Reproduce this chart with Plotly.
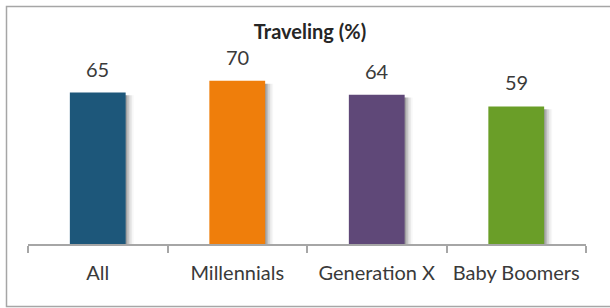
import plotly.graph_objects as go

categories = ["All", "Millennials", "Generation X", "Baby Boomers"]
values = [65, 70, 64, 59]
colors = ["#1D577A", "#EF7E0B", "#5F4878", "#6A9E28"]
title_text = "Traveling (%)"

W, H = 610, 308
ml, mr, mt, mb = 28, 24, 58, 64
FONT = "Lato, Carlito, Calibri, sans-serif"
TXT = "#3A3A3A"

fig = go.Figure()

# soft shadow layers to the right of each bar
shadow_steps = [(0.010, 0.16), (0.022, 0.12), (0.034, 0.08), (0.046, 0.05), (0.058, 0.03)]
for dx, op in shadow_steps:
    fig.add_trace(go.Bar(
        x=categories, y=[v - 1.2 for v in values],
        width=0.4, offset=-0.2 + dx,
        marker=dict(color=f"rgba(0,0,0,{op})", line=dict(width=0)),
        hoverinfo="skip", showlegend=False,
    ))

fig.add_trace(go.Bar(
    x=categories, y=values,
    width=0.4, offset=-0.2,
    marker=dict(color=colors, line=dict(width=0)),
    showlegend=False,
))

for c, v in zip(categories, values):
    fig.add_annotation(x=c, y=v, text=str(v), showarrow=False,
                       yshift=24, yanchor="middle",
                       font=dict(family=FONT, size=20, color=TXT))

pw = W - ml - mr
ph = H - mt - mb
fig.add_shape(type="rect", xref="paper", yref="paper",
              x0=-(ml - 6.5) / pw, x1=1 + (mr + 60) / pw,
              y0=-(mb - 1.5) / ph, y1=1 + (mt - 6.5) / ph,
              line=dict(color="#A6A6A6", width=1.5), fillcolor="rgba(0,0,0,0)",
              layer="above")

fig.update_layout(
    width=W, height=H,
    margin=dict(l=ml, r=mr, t=mt, b=mb),
    paper_bgcolor="white", plot_bgcolor="white",
    barmode="overlay",
    title=dict(text="<b>" + title_text + "</b>", x=(310 - ml) / pw, xref="paper",
               xanchor="center", y=1 - 32 / H, yanchor="middle",
               font=dict(family=FONT, size=20, color="#262626")),
    font=dict(family=FONT, size=20, color=TXT),
    xaxis=dict(
        type="category", range=[-0.5, 3.5],
        showline=True, linecolor="#A6A6A6", linewidth=2,
        ticks="outside", tickson="boundaries", ticklen=7, tickwidth=2, tickcolor="#A6A6A6",
        ticklabelstandoff=10,
        tickfont=dict(family=FONT, size=20, color=TXT),
        showgrid=False, zeroline=False,
    ),
    yaxis=dict(range=[0, 79.8], visible=False, showgrid=False, zeroline=False),
)

fig.write_html("out.html", config={"displayModeBar": False},
               post_script="document.body.style.margin='0px';document.body.style.overflow='hidden';")
